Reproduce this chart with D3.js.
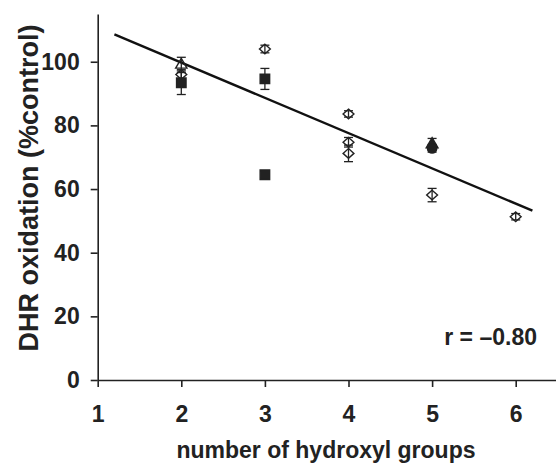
<!DOCTYPE html>
<html>
<head>
<meta charset="utf-8">
<script src="https://cdn.jsdelivr.net/npm/d3@7/dist/d3.min.js"></script>
<style>
  body { margin: 0; background: #fff; }
  svg text { font-family: "Liberation Sans", Arial, sans-serif; font-weight: bold; fill: #222; }
</style>
</head>
<body>
<div id="chart"></div>
<script>
// data
const xTicks = [1, 2, 3, 4, 5, 6];
const yTicks = [0, 20, 40, 60, 80, 100];

// open diamonds
const diamondX = [2, 3, 4, 4, 4, 5, 6];
const diamondY = [96, 104, 83.6, 74.7, 71.2, 58.1, 51.3];
const diamondErr = [1.5, 1.2, 1, 1.5, 2.6, 2.1, 1];

// open triangle
const triOpenX = [2];
const triOpenY = [99];
const triOpenErr = [2.4];

// filled squares
const squareX = [2, 3, 3];
const squareY = [93.4, 94.6, 64.5];
const squareErr = [3.7, 3.3, 1];

// filled triangle + filled circle
const triFillX = [5];
const triFillY = [74];
const triFillErr = [1.9];
const circleX = [5];
const circleY = [72.8];
const circleErr = [1.2];

// regression line end points
const fitX = [1.2, 6.2];
const fitY = [108.6, 53.2];

const width = 556;
const height = 464;

const svg = d3.select("#chart").append("svg")
    .attr("width", width)
    .attr("height", height);

// scales
const x = d3.scaleLinear().domain([1, 6.5]).range([97.7, 557.5]);
const y = d3.scaleLinear().domain([0, 115]).range([380, 14]);

const ink = "#222";

// axes
const xAxis = svg.append("g")
    .attr("transform", "translate(0," + y(0) + ")")
    .call(d3.axisBottom(x).tickValues(xTicks).tickFormat(d3.format("d")).tickSize(7).tickSizeOuter(0).tickPadding(19));
const yAxis = svg.append("g")
    .attr("transform", "translate(" + x(1) + ",0)")
    .call(d3.axisLeft(y).tickValues(yTicks).tickSize(7).tickSizeOuter(0).tickPadding(11));

[xAxis, yAxis].forEach(g => {
    g.select(".domain").attr("stroke", ink).attr("stroke-width", 1.6);
    g.selectAll(".tick line").attr("stroke", ink).attr("stroke-width", 1.6);
    g.selectAll(".tick text").style("font-size", "23px").attr("fill", ink);
});

// axis titles
svg.append("text")
    .attr("x", 326)
    .attr("y", 458)
    .attr("text-anchor", "middle")
    .style("font-size", "23px")
    .text("number of hydroxyl groups");

svg.append("text")
    .attr("transform", "translate(38," + 188 + ") rotate(-90)")
    .attr("text-anchor", "middle")
    .style("font-size", "27px")
    .text("DHR oxidation (%control)");

svg.append("text")
    .attr("x", 537)
    .attr("y", 345)
    .attr("text-anchor", "end")
    .style("font-size", "23px")
    .text("r = \u20130.80");

// fit line
const line = d3.line()
    .x((d, i) => x(fitX[i]))
    .y((d, i) => y(fitY[i]));
svg.append("path")
    .attr("d", line(fitX))
    .attr("fill", "none")
    .attr("stroke", "#111")
    .attr("stroke-width", 2.4);

// wide diamond, the open markers look flatter than d3's diamond
const wideDiamond = {
    draw(ctx, size) {
        const w = Math.sqrt(size) * 0.7, h = Math.sqrt(size) * 0.62;
        ctx.moveTo(0, -h);
        ctx.lineTo(w, 0);
        ctx.lineTo(0, h);
        ctx.lineTo(-w, 0);
        ctx.closePath();
    }
};

// error bars + markers
function series(xs, ys, errs, symbol, size, filled) {
    const g = svg.append("g");
    const pts = xs.map((d, i) => ({ x: d, y: ys[i], e: errs[i] }));
    const cap = 4.5;
    pts.forEach(p => {
        const cx = x(p.x), top = y(p.y + p.e), bot = y(p.y - p.e);
        g.append("line").attr("x1", cx).attr("x2", cx).attr("y1", top).attr("y2", bot)
            .attr("stroke", ink).attr("stroke-width", 1.3);
        g.append("line").attr("x1", cx - cap).attr("x2", cx + cap).attr("y1", top).attr("y2", top)
            .attr("stroke", ink).attr("stroke-width", 1.3);
        g.append("line").attr("x1", cx - cap).attr("x2", cx + cap).attr("y1", bot).attr("y2", bot)
            .attr("stroke", ink).attr("stroke-width", 1.3);
    });
    g.selectAll("path")
        .data(pts)
        .join("path")
        .attr("transform", d => "translate(" + x(d.x) + "," + y(d.y) + ")")
        .attr("d", d3.symbol().type(symbol).size(size))
        .attr("fill", filled ? ink : "none")
        .attr("stroke", ink)
        .attr("stroke-width", 1.4);
}

series(diamondX, diamondY, diamondErr, wideDiamond, 60, false);
series(triOpenX, triOpenY, triOpenErr, d3.symbolTriangle, 55, false);
series(squareX, squareY, squareErr, d3.symbolSquare, 90, true);
series(triFillX, triFillY, triFillErr, d3.symbolTriangle, 60, true);
series(circleX, circleY, circleErr, d3.symbolCircle, 70, true);
</script>
</body>
</html>
